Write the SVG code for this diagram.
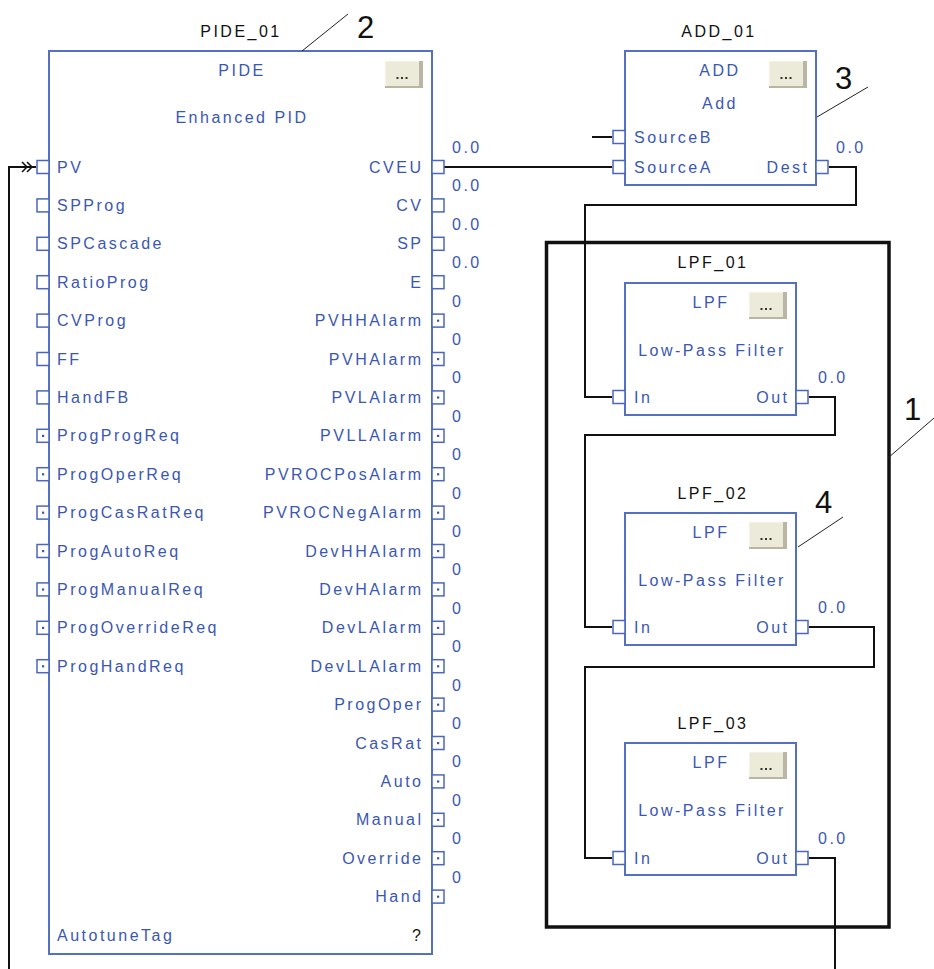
<svg xmlns="http://www.w3.org/2000/svg" xmlns:xlink="http://www.w3.org/1999/xlink" width="934" height="969" viewBox="0 0 934 969">
<style>
text{font-family:"Liberation Sans",Arial,sans-serif;font-size:16px;letter-spacing:2.5px}
.b{fill:#3b57b4}
.k{fill:#111}
.mid{text-anchor:middle}
.end{text-anchor:end}
.num{font-size:31px;letter-spacing:0;fill:#111}
.blk{fill:#fff;stroke:#5370c2;stroke-width:2}
.pin{fill:#fff;stroke:#4a67bd;stroke-width:1.5}
.wire{fill:none;stroke:#111;stroke-width:2}
.lead{fill:none;stroke:#222;stroke-width:1}
</style>
<defs>
<g id="pinL"><rect class="pin" x="-12" y="-6.5" width="12" height="13"/></g>
<g id="pinR"><rect class="pin" x="0" y="-6.5" width="12" height="13"/></g>
<g id="pinLb"><rect class="pin" x="-12" y="-6.5" width="12" height="13"/><rect x="-7" y="-1" width="2.2" height="2.2" fill="#3b57b4"/></g>
<g id="pinRb"><rect class="pin" x="0" y="-6.5" width="12" height="13"/><rect x="5" y="-1" width="2.2" height="2.2" fill="#3b57b4"/></g>
<g id="btn">
<rect x="0" y="0" width="38" height="27" fill="#b9b6a3"/>
<rect x="0" y="0" width="34" height="25" fill="#ecead8"/>
<path d="M0 25 V0 H34" fill="none" stroke="#fbfaf3" stroke-width="1"/>
<rect x="11.5" y="16" width="2" height="2" fill="#333"/>
<rect x="16" y="16" width="2" height="2" fill="#333"/>
<rect x="20.5" y="16" width="2" height="2" fill="#333"/>
</g>
</defs>
<rect width="934" height="969" fill="#fff"/>

<g id="group1">
<rect x="546.5" y="242.5" width="342.5" height="684.5" fill="none" stroke="#111" stroke-width="3.5"/>
</g>

<g id="connectors">
<path class="wire" d="M444 167 H612"/>
<path class="wire" d="M592 137 H612"/>
<path class="wire" d="M829 167 H856 V205 H585 V397 H612"/>
<path class="wire" d="M809 397 H835 V435 H585 V627 H612"/>
<path class="wire" d="M809 627 H874 V667 H585 V858 H612"/>
<path class="wire" d="M809 858 H835 V969"/>
<path class="wire" d="M9 969 V167 H36"/>
<path d="M22 162 L27 167 L22 172 M27 162 L32 167 L27 172" fill="none" stroke="#111" stroke-width="1.5"/>
</g>

<g id="PIDE_01">
<text class="k mid" x="241" y="37">PIDE_01</text>
<rect class="blk" x="49" y="51" width="383" height="903"/>
<text class="b mid" x="242" y="76">PIDE</text>
<use href="#btn" x="385" y="61"/>
<text class="b mid" x="242" y="123">Enhanced PID</text>
<use href="#pinL" x="49" y="167"/><text class="b" x="57" y="172.5">PV</text>
<use href="#pinL" x="49" y="205.4"/><text class="b" x="57" y="210.9">SPProg</text>
<use href="#pinL" x="49" y="243.8"/><text class="b" x="57" y="249.3">SPCascade</text>
<use href="#pinL" x="49" y="282.2"/><text class="b" x="57" y="287.7">RatioProg</text>
<use href="#pinL" x="49" y="320.6"/><text class="b" x="57" y="326.1">CVProg</text>
<use href="#pinL" x="49" y="359"/><text class="b" x="57" y="364.5">FF</text>
<use href="#pinL" x="49" y="397.4"/><text class="b" x="57" y="402.9">HandFB</text>
<use href="#pinLb" x="49" y="435.8"/><text class="b" x="57" y="441.3">ProgProgReq</text>
<use href="#pinLb" x="49" y="474.2"/><text class="b" x="57" y="479.7">ProgOperReq</text>
<use href="#pinLb" x="49" y="512.6"/><text class="b" x="57" y="518.1">ProgCasRatReq</text>
<use href="#pinLb" x="49" y="551"/><text class="b" x="57" y="556.5">ProgAutoReq</text>
<use href="#pinLb" x="49" y="589.4"/><text class="b" x="57" y="594.9">ProgManualReq</text>
<use href="#pinLb" x="49" y="627.8"/><text class="b" x="57" y="633.3">ProgOverrideReq</text>
<use href="#pinLb" x="49" y="666.2"/><text class="b" x="57" y="671.7">ProgHandReq</text>

<use href="#pinR" x="432" y="167"/><text class="b end" x="423.5" y="172.5">CVEU</text><text class="b" x="452" y="153">0.0</text>
<use href="#pinR" x="432" y="205.4"/><text class="b end" x="423.5" y="210.9">CV</text><text class="b" x="452" y="191.4">0.0</text>
<use href="#pinR" x="432" y="243.8"/><text class="b end" x="423.5" y="249.3">SP</text><text class="b" x="452" y="229.8">0.0</text>
<use href="#pinR" x="432" y="282.2"/><text class="b end" x="423.5" y="287.7">E</text><text class="b" x="452" y="268.2">0.0</text>
<use href="#pinRb" x="432" y="320.6"/><text class="b end" x="423.5" y="326.1">PVHHAlarm</text><text class="b" x="452" y="306.6">0</text>
<use href="#pinRb" x="432" y="359"/><text class="b end" x="423.5" y="364.5">PVHAlarm</text><text class="b" x="452" y="345">0</text>
<use href="#pinRb" x="432" y="397.4"/><text class="b end" x="423.5" y="402.9">PVLAlarm</text><text class="b" x="452" y="383.4">0</text>
<use href="#pinRb" x="432" y="435.8"/><text class="b end" x="423.5" y="441.3">PVLLAlarm</text><text class="b" x="452" y="421.8">0</text>
<use href="#pinRb" x="432" y="474.2"/><text class="b end" x="423.5" y="479.7">PVROCPosAlarm</text><text class="b" x="452" y="460.2">0</text>
<use href="#pinRb" x="432" y="512.6"/><text class="b end" x="423.5" y="518.1">PVROCNegAlarm</text><text class="b" x="452" y="498.6">0</text>
<use href="#pinRb" x="432" y="551"/><text class="b end" x="423.5" y="556.5">DevHHAlarm</text><text class="b" x="452" y="537">0</text>
<use href="#pinRb" x="432" y="589.4"/><text class="b end" x="423.5" y="594.9">DevHAlarm</text><text class="b" x="452" y="575.4">0</text>
<use href="#pinRb" x="432" y="627.8"/><text class="b end" x="423.5" y="633.3">DevLAlarm</text><text class="b" x="452" y="613.8">0</text>
<use href="#pinRb" x="432" y="666.2"/><text class="b end" x="423.5" y="671.7">DevLLAlarm</text><text class="b" x="452" y="652.2">0</text>
<use href="#pinRb" x="432" y="704.6"/><text class="b end" x="423.5" y="710.1">ProgOper</text><text class="b" x="452" y="690.6">0</text>
<use href="#pinRb" x="432" y="743"/><text class="b end" x="423.5" y="748.5">CasRat</text><text class="b" x="452" y="729">0</text>
<use href="#pinRb" x="432" y="781.4"/><text class="b end" x="423.5" y="786.9">Auto</text><text class="b" x="452" y="767.4">0</text>
<use href="#pinRb" x="432" y="819.8"/><text class="b end" x="423.5" y="825.3">Manual</text><text class="b" x="452" y="805.8">0</text>
<use href="#pinRb" x="432" y="858.2"/><text class="b end" x="423.5" y="863.7">Override</text><text class="b" x="452" y="844.2">0</text>
<use href="#pinRb" x="432" y="896.6"/><text class="b end" x="423.5" y="902.1">Hand</text><text class="b" x="452" y="882.6">0</text>
<text class="b" x="57" y="941">AutotuneTag</text>
<text class="k end" x="423.5" y="941">?</text>
</g>

<g id="ADD_01">
<text class="k mid" x="719" y="37">ADD_01</text>
<rect class="blk" x="625" y="51" width="191" height="134"/>
<text class="b mid" x="720" y="76">ADD</text>
<use href="#btn" x="769" y="61"/>
<text class="b mid" x="720" y="109">Add</text>
<use href="#pinL" x="625" y="137"/><text class="b" x="634" y="142.5">SourceB</text>
<use href="#pinL" x="625" y="167"/><text class="b" x="634" y="172.5">SourceA</text>
<use href="#pinR" x="816" y="167"/><text class="b end" x="809.5" y="172.5">Dest</text>
<text class="b" x="836" y="153">0.0</text>
</g>

<g id="LPF_01">
<text class="k mid" x="713" y="268">LPF_01</text>
<rect class="blk" x="625" y="283" width="171" height="132"/>
<text class="b mid" x="711" y="308">LPF</text>
<use href="#btn" x="749" y="292"/>
<text class="b mid" x="712" y="356">Low-Pass Filter</text>
<use href="#pinL" x="625" y="397"/><text class="b" x="634" y="402.5">In</text>
<use href="#pinR" x="796" y="397"/><text class="b end" x="789.5" y="402.5">Out</text>
<text class="b" x="818" y="383">0.0</text>
</g>

<g id="LPF_02">
<text class="k mid" x="713" y="499">LPF_02</text>
<rect class="blk" x="625" y="513" width="171" height="132"/>
<text class="b mid" x="711" y="538">LPF</text>
<use href="#btn" x="749" y="522"/>
<text class="b mid" x="712" y="586">Low-Pass Filter</text>
<use href="#pinL" x="625" y="627"/><text class="b" x="634" y="632.5">In</text>
<use href="#pinR" x="796" y="627"/><text class="b end" x="789.5" y="632.5">Out</text>
<text class="b" x="818" y="613">0.0</text>
</g>

<g id="LPF_03">
<text class="k mid" x="713" y="729">LPF_03</text>
<rect class="blk" x="625" y="743" width="171" height="132"/>
<text class="b mid" x="711" y="768">LPF</text>
<use href="#btn" x="749" y="752"/>
<text class="b mid" x="712" y="816">Low-Pass Filter</text>
<use href="#pinL" x="625" y="858"/><text class="b" x="634" y="863.5">In</text>
<use href="#pinR" x="796" y="858"/><text class="b end" x="789.5" y="863.5">Out</text>
<text class="b" x="818" y="844">0.0</text>
</g>

<g id="callouts">
<path class="lead" d="M302 51 L348 14"/>
<text class="num" x="357" y="38">2</text>
<path class="lead" d="M817 117 L868 87"/>
<text class="num" x="835" y="89">3</text>
<path class="lead" d="M798 547 L843 517"/>
<text class="num" x="815" y="513">4</text>
<path class="lead" d="M888 458 L934 418"/>
<text class="num" x="904" y="420">1</text>
</g>
</svg>
